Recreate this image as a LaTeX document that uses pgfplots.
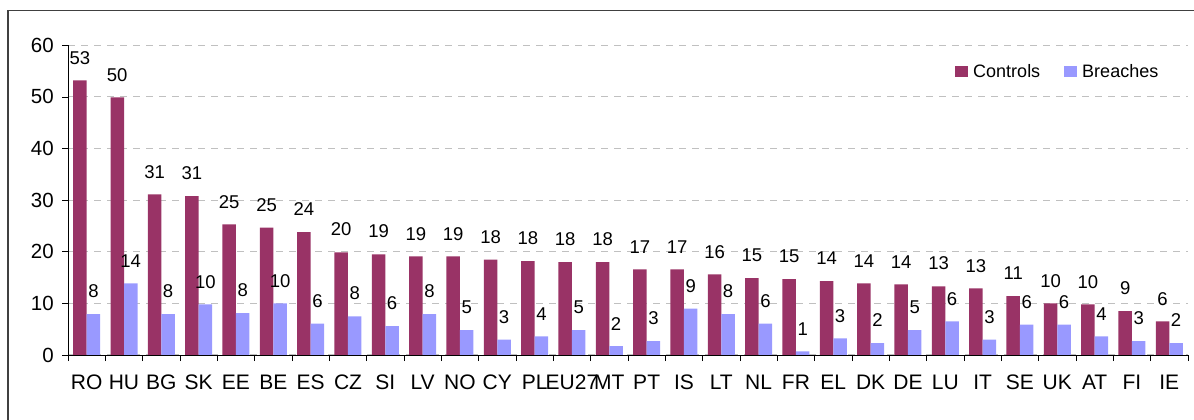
\documentclass[border=0pt]{standalone}
\usepackage{pgfplots}
\usepackage{pgfplotstable}
\pgfplotsset{compat=1.18}
\usepackage{fontspec}
\setmainfont{Liberation Sans}
\definecolor{ctrl}{HTML}{993366}
\definecolor{brch}{HTML}{9999FF}
\definecolor{gridc}{HTML}{C0C0C0}
\definecolor{framec}{HTML}{404040}
\pgfplotstableread{
x c b cl bl
0 53.2 7.9 53 8
1 49.9 13.9 50 14
2 31.1 7.9 31 8
3 30.8 9.8 31 10
4 25.3 8.1 25 8
5 24.7 10.0 25 10
6 23.8 6.1 24 6
7 19.9 7.5 20 8
8 19.5 5.6 19 6
9 19.1 7.9 19 8
10 19.1 4.8 19 5
11 18.5 3.0 18 3
12 18.2 3.6 18 4
13 18.0 4.8 18 5
14 18.0 1.7 18 2
15 16.6 2.7 17 3
16 16.6 9.0 17 9
17 15.6 7.9 16 8
18 14.9 6.1 15 6
19 14.7 0.7 15 1
20 14.3 3.2 14 3
21 13.9 2.3 14 2
22 13.7 4.8 14 5
23 13.3 6.5 13 6
24 12.9 3.0 13 3
25 11.4 5.9 11 6
26 10.0 5.9 10 6
27 9.8 3.6 10 4
28 8.5 2.7 9 3
29 6.5 2.3 6 2
}\data
\begin{document}
\begin{tikzpicture}
\useasboundingbox (0,0) rectangle (1194bp,420bp);
\draw[framec, line width=1.6bp] (8bp,-5bp) -- (8bp,409.5bp) -- (1200bp,409.5bp);
\begin{axis}[
  at={(68bp,65bp)}, anchor=south west,
  scale only axis, width=1120bp, height=309.7bp,
  xmin=-0.5, xmax=29.5, ymin=0, ymax=60,
  ybar=0pt, bar width=13.5bp,
  axis lines=left,
  axis line style={-, black, line width=0.8bp},
  tick align=outside,
  major tick length=6bp,
  tick style={black, line width=0.8bp},
  xtick={-0.5,0.5,...,29.5},
  xticklabels={},
  extra x ticks={0,1,...,29},
  extra x tick labels={RO,HU,BG,SK,EE,BE,ES,CZ,SI,LV,NO,CY,PL,EU27,MT,PT,IS,LT,NL,FR,EL,DK,DE,LU,IT,SE,UK,AT,FI,IE},
  extra x tick style={major tick length=0pt, tick label style={font=\fontsize{21bp}{24bp}\selectfont, anchor=north, inner sep=0pt, yshift=-20bp}},
  ytick={0,10,...,60},
  yticklabel style={font=\fontsize{20.5bp}{23bp}\selectfont, anchor=east, inner sep=0pt, xshift=-8bp},
  /pgf/number format/assume math mode=true,
  ymajorgrids,
  major grid style={gridc, line width=1bp, dash pattern=on 7bp off 6bp},
  legend style={at={(rel axis cs:0.792,0.916)}, anchor=west, draw=none, fill=none,
    inner sep=0pt, font=\fontsize{18bp}{20bp}\selectfont,
    /tikz/every even column/.append style={column sep=22bp}},
  legend columns=2,
  legend image code/.code={\fill[#1] (0bp,-5.5bp) rectangle (13bp,5.5bp); \path (16bp,0bp);},
  nodes near coords,
  point meta=explicit symbolic,
  every node near coord/.append style={font=\fontsize{18.5bp}{21bp}\selectfont, inner sep=0pt, anchor=south, yshift=16bp, black},
]
\addplot[fill=ctrl, draw=none] table[x=x, y=c, meta=cl] {\data};
\addplot[fill=brch, draw=none] table[x=x, y=b, meta=bl] {\data};
\legend{Controls, Breaches}
\end{axis}
\end{tikzpicture}
\end{document}
